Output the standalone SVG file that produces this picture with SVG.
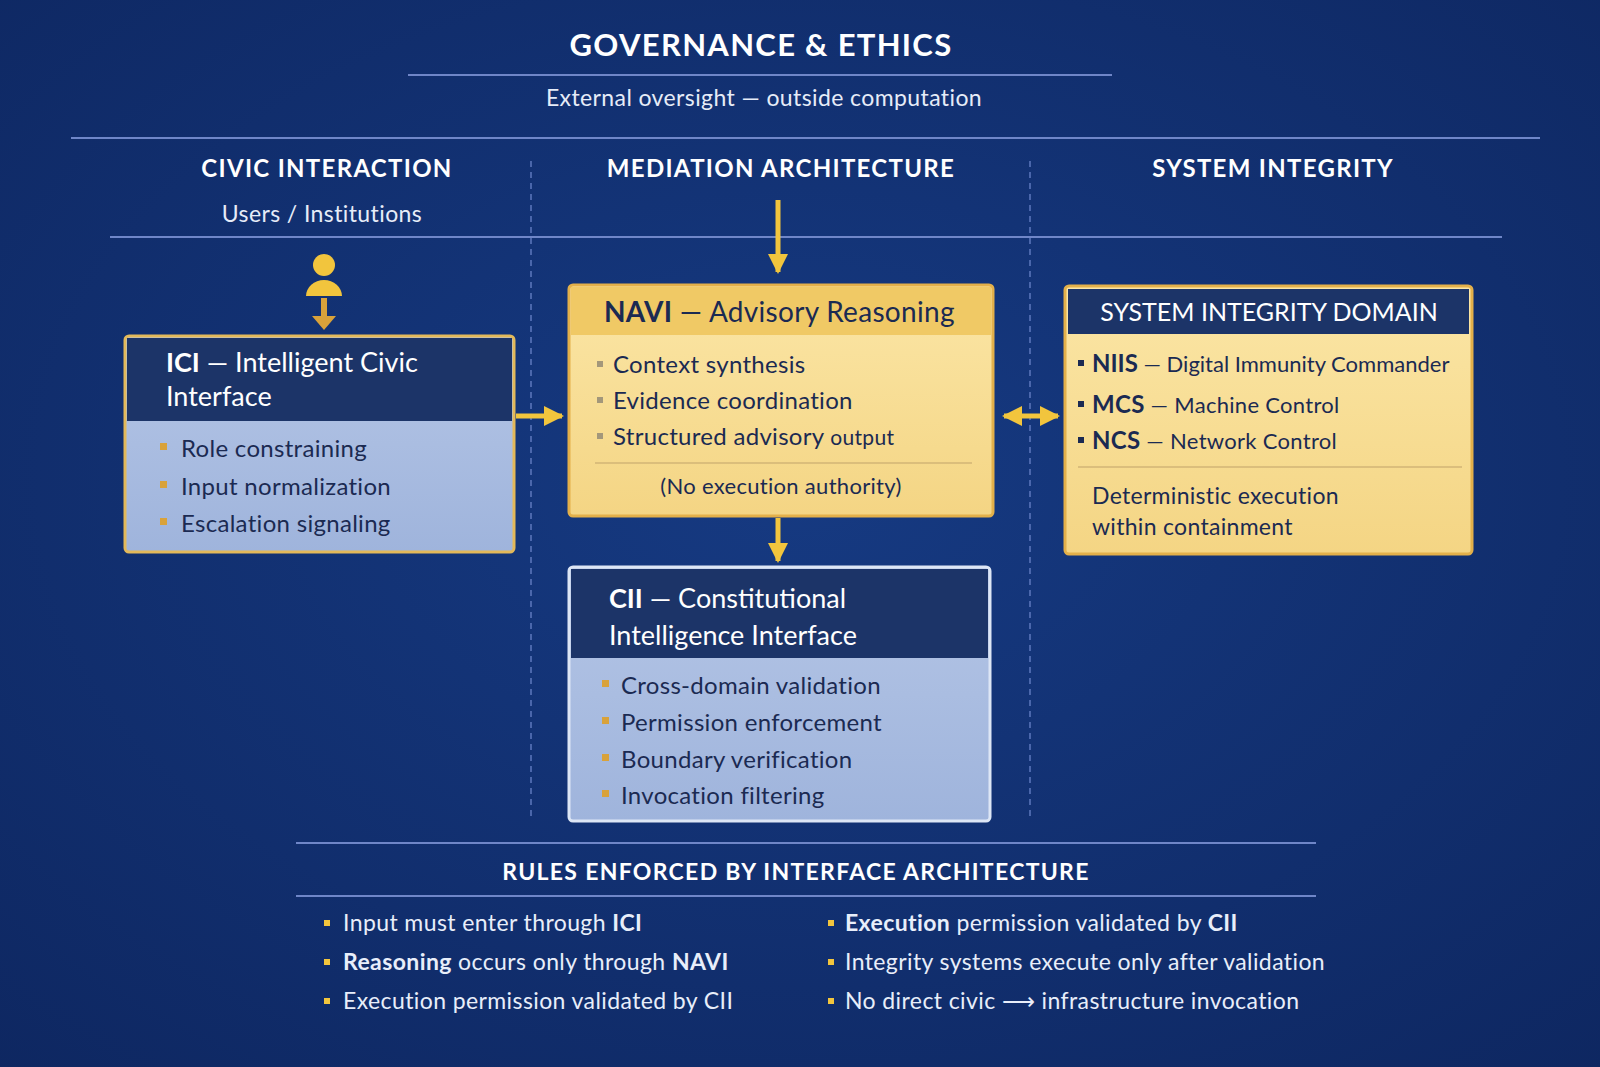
<svg xmlns="http://www.w3.org/2000/svg" width="1600" height="1067" viewBox="0 0 1600 1067">
<defs>
<radialGradient id="bg" cx="50%" cy="45%" r="75%"><stop offset="0" stop-color="#163a82"/><stop offset="1" stop-color="#0e2761"/></radialGradient>
<linearGradient id="gold" x1="0" y1="0" x2="0" y2="1"><stop offset="0" stop-color="#fbe6a6"/><stop offset="1" stop-color="#f4d584"/></linearGradient>
<linearGradient id="blue" x1="0" y1="0" x2="0" y2="1"><stop offset="0" stop-color="#b5c6e6"/><stop offset="1" stop-color="#9fb4dc"/></linearGradient>
<marker id="ah" viewBox="0 0 10 10" refX="9" refY="5" markerWidth="4" markerHeight="4" orient="auto-start-reverse"><path d="M0,0 L10,5 L0,10 z" fill="#f2c53d"/></marker>
<style>
text{font-family:Lato,"Open Sans","Liberation Sans",sans-serif}
.hd{fill:#fff;font-weight:700;font-size:24px;letter-spacing:1.3px;text-anchor:middle}
.sub{fill:#e6ecf8;font-size:23px;letter-spacing:0.4px;text-anchor:middle}
.ln{stroke:#6f86c8;stroke-width:2}
.dash{stroke:#5d78bd;stroke-width:1.5;stroke-dasharray:6 5}
.conn{stroke:#f2c53d;stroke-width:5;fill:none;marker-end:url(#ah)}
.bt{fill:#1b2a52;font-size:24px;letter-spacing:0.3px}
.wt{fill:#fff;font-size:27px}
.bul{fill:#d9a23a}
.rule{fill:#e8eefa;font-size:23px;letter-spacing:0.4px}
</style>
</defs>
<rect width="1600" height="1067" fill="url(#bg)"/>
<text x="761" y="56" class="hd" style="font-size:31px">GOVERNANCE &amp; ETHICS</text>
<line x1="408" y1="75" x2="1112" y2="75" class="ln"/>
<text x="764" y="106" class="sub">External oversight — outside computation</text>
<line x1="71" y1="138" x2="1540" y2="138" class="ln"/>
<text x="327" y="177" class="hd">CIVIC INTERACTION</text>
<text x="781" y="177" class="hd">MEDIATION ARCHITECTURE</text>
<text x="1273" y="177" class="hd">SYSTEM INTEGRITY</text>
<text x="322" y="222" class="sub">Users / Institutions</text>
<line x1="110" y1="237" x2="1502" y2="237" class="ln"/>
<line x1="531" y1="161" x2="531" y2="816" class="dash"/>
<line x1="1030" y1="161" x2="1030" y2="816" class="dash"/>

<g id="person">
<circle cx="324" cy="265" r="11" fill="#f2c53d"/>
<path d="M306,296 a18,16 0 0 1 36,0 z" fill="#f2c53d"/>
<line x1="324" y1="298" x2="324" y2="322" stroke="#d9a23a" stroke-width="6"/>
<path d="M312,316 L336,316 L324,330 z" fill="#d9a23a"/>
</g>

<g id="connectors">
<line x1="778" y1="200" x2="778" y2="272" class="conn"/>
<line x1="516" y1="416" x2="562" y2="416" class="conn"/>
<line x1="1004" y1="416" x2="1058" y2="416" class="conn" marker-start="url(#ah)"/>
<line x1="778" y1="518" x2="778" y2="561" class="conn"/>
</g>

<g id="ici">
<rect x="125" y="336" width="389" height="216" rx="4" fill="url(#blue)" stroke="#e3b95a" stroke-width="3"/>
<path d="M127,338 H512 V421 H127 z" fill="#1c3468"/>
<text x="166" y="372" class="wt"><tspan font-weight="700">ICI</tspan> — Intelligent Civic</text>
<text x="166" y="406" class="wt">Interface</text>
<rect x="160" y="443" width="7" height="7" class="bul"/><text x="181" y="457" class="bt">Role constraining</text>
<rect x="160" y="481" width="7" height="7" class="bul"/><text x="181" y="495" class="bt">Input normalization</text>
<rect x="160" y="518" width="7" height="7" class="bul"/><text x="181" y="532" class="bt">Escalation signaling</text>
</g>

<g id="navi">
<rect x="569" y="285" width="424" height="231" rx="4" fill="url(#gold)" stroke="#e3b04a" stroke-width="3"/>
<path d="M571,287 H991 V335 H571 z" fill="#f0c965"/>
<text x="604" y="322" class="bt" style="font-size:28px"><tspan font-weight="700">NAVI</tspan> — Advisory Reasoning</text>
<rect x="597" y="361" width="6" height="6" fill="#a3977a"/><text x="613" y="373" class="bt">Context synthesis</text>
<rect x="597" y="397" width="6" height="6" fill="#a3977a"/><text x="613" y="409" class="bt">Evidence coordination</text>
<rect x="597" y="433" width="6" height="6" fill="#a3977a"/><text x="613" y="445" class="bt">Structured advisory <tspan style="font-size:21px">output</tspan></text>
<line x1="595" y1="463" x2="972" y2="463" stroke="#d2b576" stroke-width="1.5"/>
<text x="781" y="494" class="bt" text-anchor="middle" style="font-size:22px">(No execution authority)</text>
</g>

<g id="si">
<rect x="1065" y="286" width="407" height="268" rx="4" fill="url(#gold)" stroke="#e3b04a" stroke-width="3"/>
<path d="M1068,289 H1469 V334 H1068 z" fill="#1c3468"/>
<text x="1269" y="321" class="wt" text-anchor="middle" style="font-size:25px">SYSTEM INTEGRITY DOMAIN</text>
<rect x="1078" y="360" width="6" height="6" fill="#1b2a52"/><text x="1092" y="372" class="bt" style="font-size:22px;letter-spacing:0"><tspan font-weight="700" style="font-size:24px">NIIS</tspan> — Digital Immunity Commander</text>
<rect x="1078" y="401" width="6" height="6" fill="#1b2a52"/><text x="1092" y="413" class="bt" style="font-size:22px"><tspan font-weight="700" style="font-size:24px">MCS</tspan> — Machine Control</text>
<rect x="1078" y="437" width="6" height="6" fill="#1b2a52"/><text x="1092" y="449" class="bt" style="font-size:22px"><tspan font-weight="700" style="font-size:24px">NCS</tspan> — Network Control</text>
<line x1="1078" y1="467" x2="1462" y2="467" stroke="#d2b576" stroke-width="1.5"/>
<text x="1092" y="504" class="bt" style="font-size:23px">Deterministic execution</text>
<text x="1092" y="535" class="bt" style="font-size:23px">within containment</text>
</g>

<g id="cii">
<rect x="569" y="567" width="421" height="254" rx="4" fill="url(#blue)" stroke="#dde6f5" stroke-width="3"/>
<path d="M571,569 H988 V658 H571 z" fill="#1c3468"/>
<text x="609" y="608" class="wt"><tspan font-weight="700">CII</tspan> — Constitutional</text>
<text x="609" y="645" class="wt">Intelligence Interface</text>
<rect x="602" y="680" width="7" height="7" class="bul"/><text x="621" y="694" class="bt">Cross-domain validation</text>
<rect x="602" y="717" width="7" height="7" class="bul"/><text x="621" y="731" class="bt">Permission enforcement</text>
<rect x="602" y="754" width="7" height="7" class="bul"/><text x="621" y="768" class="bt">Boundary verification</text>
<rect x="602" y="790" width="7" height="7" class="bul"/><text x="621" y="804" class="bt">Invocation filtering</text>
</g>

<g id="rules">
<line x1="296" y1="843" x2="1316" y2="843" class="ln"/>
<text x="796" y="880" class="hd" style="font-size:23px">RULES ENFORCED BY INTERFACE ARCHITECTURE</text>
<line x1="296" y1="896" x2="1316" y2="896" class="ln"/>
<rect x="324" y="920" width="6" height="6" fill="#f2c53d"/><text x="343" y="931" class="rule">Input must enter through <tspan font-weight="700">ICI</tspan></text>
<rect x="324" y="959" width="6" height="6" fill="#f2c53d"/><text x="343" y="970" class="rule"><tspan font-weight="700">Reasoning</tspan> occurs only through <tspan font-weight="700">NAVI</tspan></text>
<rect x="324" y="998" width="6" height="6" fill="#f2c53d"/><text x="343" y="1009" class="rule">Execution permission validated by CII</text>
<rect x="828" y="920" width="6" height="6" fill="#f2c53d"/><text x="845" y="931" class="rule"><tspan font-weight="700">Execution</tspan> permission validated by <tspan font-weight="700">CII</tspan></text>
<rect x="828" y="959" width="6" height="6" fill="#f2c53d"/><text x="845" y="970" class="rule">Integrity systems execute only after validation</text>
<rect x="828" y="998" width="6" height="6" fill="#f2c53d"/><text x="845" y="1009" class="rule">No direct civic ⟶ infrastructure invocation</text>
</g>
</svg>
